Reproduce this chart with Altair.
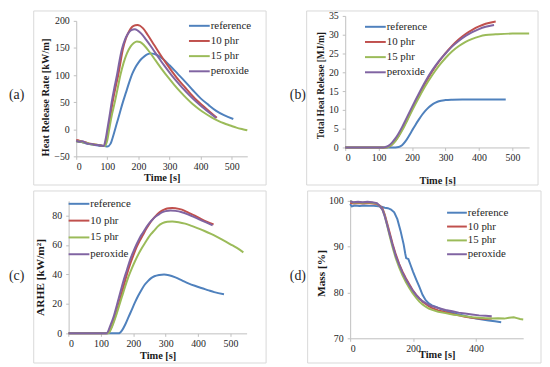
import altair as alt
import pandas as pd

FONT = "Liberation Serif"
SERIES = ["reference", "10 phr", "15 phr", "peroxide"]
COLORS = ["#4F81BD", "#C0504D", "#9BBB59", "#8064A2"]
PANEL_LABELS = ["(a)", "(b)", "(c)", "(d)"]
X_TITLE = "Time [s]"
Y_TITLES = ["Heat Release Rate [kW/m]", "Total Heat Release [MJ/m]", "ARHE [kW/m²]", "Mass [%]"]

# ---------- (a) Heat release rate ----------
HRR_REF_T = [0, 10, 20, 30, 40, 50, 60, 70, 80, 90, 100, 110, 120, 130, 140, 150, 160, 170, 180, 190, 200, 210, 220, 230, 240, 260, 280, 300, 325, 350, 375, 400, 425, 450, 475, 505]
HRR_REF_V = [-22, -23, -24, -26, -27, -28, -29, -30, -31, -31, -32, -27, -10, 10, 30, 50, 68, 86, 102, 114, 123, 130, 135, 138.5, 140, 137, 129, 118, 103, 88, 72, 57, 45, 34, 26, 19]
HRR_10_T = [0, 10, 20, 30, 40, 50, 60, 70, 80, 90, 96, 103, 110, 117, 126, 135, 143, 150, 160, 170, 180, 190, 197, 205, 215, 230, 250, 270, 290, 310, 330, 350, 370, 390, 410, 430, 452]
HRR_10_V = [-20, -21, -23, -24, -26, -27, -28, -29, -30, -31, -20, 0, 24, 50, 76, 100, 126, 148, 168, 181, 189, 192, 192.5, 191, 186, 174, 156, 138, 121, 105, 90, 77, 64, 52, 42, 32, 21]
HRR_15_T = [0, 10, 20, 30, 40, 50, 60, 70, 80, 92, 100, 106, 114, 124, 133, 142, 152, 163, 175, 185, 195, 205, 218, 235, 255, 275, 295, 315, 335, 355, 375, 395, 415, 435, 455, 475, 495, 515, 535, 550]
HRR_15_V = [-23, -22, -24, -25, -26, -28, -28, -29, -30, -31, -20, 0, 25, 50, 75, 100, 122, 140, 153, 159, 162, 161, 155, 143, 127, 111, 96, 82, 69, 57, 46, 37, 29, 22, 16, 11, 7, 3, 0, -2]
HRR_PX_T = [0, 10, 20, 30, 40, 50, 60, 70, 80, 88, 94, 100, 107, 114, 122, 131, 139, 147, 157, 167, 177, 188, 198, 210, 225, 245, 265, 285, 305, 325, 345, 365, 385, 405, 425, 450]
HRR_PX_V = [-21, -23, -22, -25, -27, -27, -29, -29, -30, -31, -20, 0, 24, 50, 75, 100, 126, 148, 166, 177, 183, 184.5, 182, 176, 165, 149, 132, 116, 101, 87, 74, 62, 51, 41, 32, 21]

# ---------- (b) Total heat release ----------
THR_REF_T = [0, 150, 160, 170, 180, 190, 200, 210, 220, 230, 240, 250, 260, 270, 280, 300, 320, 350, 400, 480]
THR_REF_V = [0, 0, 0.1, 0.6, 1.6, 3.0, 4.5, 6.0, 7.4, 8.7, 9.8, 10.7, 11.4, 11.9, 12.3, 12.6, 12.7, 12.75, 12.75, 12.75]
THR_10_T = [0, 120, 130, 140, 150, 160, 170, 180, 190, 200, 220, 240, 260, 280, 300, 320, 340, 360, 380, 400, 420, 450]
THR_10_V = [0, 0, 0.2, 0.8, 1.8, 3.1, 4.8, 6.5, 8.3, 10.2, 13.8, 17.2, 20.2, 22.8, 25.1, 27.1, 28.8, 30.2, 31.3, 32.2, 32.9, 33.5]
THR_15_T = [0, 125, 130, 140, 150, 160, 170, 180, 190, 200, 220, 240, 260, 280, 300, 320, 340, 360, 380, 400, 420, 450, 500, 550]
THR_15_V = [0, 0, 0.2, 0.8, 1.7, 3.0, 4.5, 6.2, 8.0, 9.8, 13.2, 16.4, 19.2, 21.7, 23.8, 25.6, 27.0, 28.1, 28.9, 29.5, 29.9, 30.1, 30.3, 30.3]
THR_PX_T = [0, 115, 120, 130, 140, 150, 160, 170, 180, 190, 200, 220, 240, 260, 280, 300, 320, 340, 360, 380, 400, 420, 445]
THR_PX_V = [0, 0, 0.1, 0.5, 1.3, 2.4, 3.8, 5.4, 7.2, 9.0, 10.8, 14.3, 17.6, 20.5, 23.0, 25.0, 26.9, 28.4, 29.7, 30.7, 31.5, 32.1, 32.6]

# ---------- (c) ARHE ----------
ARHE_REF_T = [0, 155, 165, 175, 185, 195, 205, 215, 225, 235, 245, 255, 265, 280, 295, 310, 330, 350, 370, 390, 410, 430, 450, 480]
ARHE_REF_V = [0, 0, 2, 6, 11, 16, 21, 25.5, 29.5, 33, 35.5, 37.5, 38.8, 39.7, 40, 39.5, 38, 36, 34, 32.3, 30.8, 29.4, 28, 26.5]
ARHE_10_T = [0, 120, 130, 140, 150, 160, 170, 180, 190, 200, 210, 220, 230, 240, 250, 260, 270, 280, 290, 300, 310, 320, 330, 350, 370, 390, 410, 430, 448]
ARHE_10_V = [0, 0, 3, 9, 16, 24, 32, 40, 47, 53, 58.5, 63, 67, 71, 74.5, 77.5, 80, 82, 83.5, 84.5, 85, 85.2, 85, 84, 82, 80, 77.5, 75.5, 74]
ARHE_15_T = [0, 122, 135, 145, 155, 165, 175, 185, 195, 205, 215, 225, 235, 245, 255, 265, 275, 290, 305, 320, 340, 360, 380, 400, 420, 440, 460, 480, 500, 520, 540]
ARHE_15_V = [0, 0, 5, 11, 18, 25, 32, 38.5, 44, 49, 53.5, 57.5, 61, 64.5, 67.5, 70, 72.5, 74.8, 75.8, 76, 75.5, 74.5, 73, 71.3, 69.5, 67.5, 65.3, 63, 60.5, 58, 55]
ARHE_PX_T = [0, 117, 130, 140, 150, 160, 170, 180, 190, 200, 210, 220, 230, 240, 250, 260, 270, 280, 290, 300, 315, 330, 350, 370, 390, 410, 430, 445]
ARHE_PX_V = [0, 0, 6, 12, 20, 28, 36, 43, 50, 55.5, 60.5, 65, 68.5, 72, 75, 77.5, 79.5, 81, 82.3, 83, 83.5, 83.2, 82.3, 80.7, 78.8, 76.8, 74.8, 73.3]

# ---------- (d) Mass ----------
MASS_REF_T = [0, 5, 15, 30, 45, 60, 75, 90, 100, 110, 120, 130, 140, 150, 160, 170, 175, 178, 185, 192, 200, 210, 220, 230, 240, 250, 260, 275, 290, 305, 320, 340, 360, 380, 400, 420, 440, 460, 480]
MASS_REF_V = [99.3, 98.8, 99.0, 98.9, 99.0, 98.9, 98.9, 98.8, 98.7, 98.5, 98.4, 98.1, 97.5, 96.0, 93.5, 90.5, 88.5, 87.5, 87.3, 86.0, 84.5, 82.8, 81.2, 79.5, 78.3, 77.6, 77.2, 76.8, 76.3, 76.0, 75.7, 75.3, 75.0, 74.6, 74.3, 74.1, 73.9, 73.7, 73.5]
MASS_10_T = [0, 10, 25, 40, 55, 70, 85, 95, 103, 110, 118, 125, 135, 145, 156, 166, 177, 188, 198, 210, 220, 230, 240, 250, 261, 280, 303, 325, 345, 365, 387, 410, 430, 450]
MASS_10_V = [99.6, 99.4, 99.5, 99.4, 99.5, 99.4, 99.3, 98.9, 98.3, 97.0, 95.0, 93.2, 90.6, 88.3, 86.2, 84.6, 83.1, 81.8, 80.6, 79.5, 78.7, 78.0, 77.5, 77.0, 76.6, 76.1, 75.7, 75.3, 75.0, 74.7, 74.5, 74.3, 74.2, 74.3]
MASS_15_T = [0, 10, 25, 40, 55, 70, 85, 95, 103, 110, 118, 125, 135, 145, 156, 166, 177, 188, 198, 210, 220, 230, 240, 250, 261, 280, 303, 325, 345, 365, 387, 410, 430, 450, 470, 490, 505, 520, 530, 540, 550]
MASS_15_V = [100.0, 99.6, 99.7, 99.6, 99.7, 99.6, 99.4, 98.8, 98.0, 96.7, 94.5, 92.5, 89.8, 87.5, 85.4, 83.8, 82.3, 81.0, 79.9, 78.8, 78.0, 77.4, 76.9, 76.5, 76.2, 75.8, 75.5, 75.2, 75.0, 74.8, 74.6, 74.5, 74.4, 74.3, 74.4, 74.3, 74.5, 74.6, 74.4, 74.2, 74.1]
MASS_PX_T = [0, 10, 25, 40, 55, 70, 85, 95, 103, 110, 118, 125, 135, 145, 156, 166, 177, 188, 198, 210, 220, 230, 240, 250, 261, 280, 303, 325, 345, 365, 387, 410, 430, 450]
MASS_PX_V = [99.9, 99.7, 99.8, 99.7, 99.8, 99.7, 99.5, 98.8, 98.0, 96.6, 94.6, 92.8, 90.3, 88.0, 86.0, 84.4, 82.9, 81.6, 80.5, 79.4, 78.7, 78.1, 77.7, 77.3, 77.0, 76.6, 76.2, 75.9, 75.6, 75.4, 75.2, 75.0, 74.9, 74.8]


def long_df(pairs):
    rows = []
    for i, (name, (ts, vs)) in enumerate(zip(SERIES, pairs)):
        for t, v in zip(ts, vs):
            rows.append({"series": name, "k": i, "t": t, "v": v})
    return pd.DataFrame(rows)


color = alt.Color("series:N", scale=alt.Scale(domain=SERIES, range=COLORS), legend=None)


def panel(df, label, ytitle, ydomain, yticks, xticks, w, h, interp, g):
    xs = dict(domain=[0, 550], nice=False, zero=False)
    if "xr" in g:
        xs["range"] = g["xr"]
    ys = dict(domain=ydomain, nice=False, zero=False)
    if "yr" in g:
        ys["range"] = g["yr"]
    lines = alt.Chart(df).mark_line(strokeWidth=2, interpolate=interp).encode(
        x=alt.X("t:Q", scale=alt.Scale(**xs),
                axis=alt.Axis(values=xticks, title=X_TITLE, titleY=g["xty"], titleBaseline="middle",
                              titleFontSize=g["xtfs"], labelPadding=2)),
        y=alt.Y("v:Q", scale=alt.Scale(**ys),
                axis=alt.Axis(values=yticks, title=ytitle, titleX=g["ytx"], titleY=g["yty"],
                              titleBaseline="middle", titleFontSize=g["ytfs"], labelPadding=4,
                              offset=g.get("yoff", 0))),
        color=color,
        order="k:O",
    )
    leg_df = pd.DataFrame({"series": SERIES})
    lscale = alt.Scale(type="point", domain=SERIES, range=[g["ly0"], g["ly1"]], padding=0)
    leg_rule = alt.Chart(leg_df).mark_rule(strokeWidth=2).encode(
        x=alt.value(g["lx0"]), x2=alt.value(g["lx1"]),
        y=alt.Y("series:N", scale=lscale, axis=None), color=color)
    leg_text = alt.Chart(leg_df).mark_text(align="left", baseline="middle", font=FONT, fontSize=11,
                                           color="#262626").encode(
        x=alt.value(g["lx1"] + 1), y=alt.Y("series:N", scale=lscale, axis=None), text="series:N")
    lab_data = alt.Data(values=[{"label": label}])
    border = alt.Chart(lab_data).mark_rect(fill="transparent", stroke="#d9d9d9", strokeWidth=1).encode(
        x=alt.value(g["bx0"]), x2=alt.value(g["bx1"]), y=alt.value(g["by0"]), y2=alt.value(g["by1"]))
    lab = alt.Chart(lab_data).mark_text(align="left", baseline="middle", font=FONT, fontSize=14,
                                        color="#262626").encode(
        x=alt.value(g["labx"]), y=alt.value(g["laby"]), text="label:N")
    return alt.layer(border, lab, lines, leg_rule, leg_text).resolve_scale(y="independent").properties(
        width=w, height=h)


XT = [0, 100, 200, 300, 400, 500]

pa = panel(long_df([(HRR_REF_T, HRR_REF_V), (HRR_10_T, HRR_10_V), (HRR_15_T, HRR_15_V), (HRR_PX_T, HRR_PX_V)]),
           PANEL_LABELS[0], Y_TITLES[0], [-50, 200], [-50, 0, 50, 100, 150, 200], XT, 173, 137, "monotone",
           dict(xty=21, xtfs=10.5, ytx=-31, yty=77, ytfs=10.5, ly0=5, ly1=51, lx0=114, lx1=135,
                bx0=-43, bx1=192, by0=-10, by1=166, labx=-68, laby=75))
pb = panel(long_df([(THR_REF_T, THR_REF_V), (THR_10_T, THR_10_V), (THR_15_T, THR_15_V), (THR_PX_T, THR_PX_V)]),
           PANEL_LABELS[1], Y_TITLES[1], [0, 35], [0, 5, 10, 15, 20, 25, 30, 35], XT, 186, 128, "monotone",
           dict(yr=[128, -5], xty=33, xtfs=10.5, ytx=-25, yty=65, ytfs=9.5, ly0=6, ly1=52, lx0=20, lx1=41,
                bx0=-39, bx1=195, by0=-10, by1=166, labx=-56, laby=75))
pc = panel(long_df([(ARHE_REF_T, ARHE_REF_V), (ARHE_10_T, ARHE_10_V), (ARHE_15_T, ARHE_15_V), (ARHE_PX_T, ARHE_PX_V)]),
           PANEL_LABELS[2], Y_TITLES[2], [0, 90], [0, 20, 40, 60, 80], XT, 172, 134, "monotone",
           dict(xr=[-7.7, 172.3], yoff=7.7, xty=22, xtfs=10.5, ytx=-28.3, yty=77, ytfs=11.5, ly0=3, ly1=54,
                lx0=-7.7, lx1=13.3, bx0=-43, bx1=192, by0=-10, by1=164, labx=-68, laby=76))
pd_ = panel(long_df([(MASS_REF_T, MASS_REF_V), (MASS_10_T, MASS_10_V), (MASS_15_T, MASS_15_V), (MASS_PX_T, MASS_PX_V)]),
            PANEL_LABELS[3], Y_TITLES[3], [70, 100], [70, 80, 90, 100], [0, 200, 400], 175, 139, "linear",
            dict(xty=16, xtfs=10.5, ytx=-29, yty=73, ytfs=11.5, ly0=12, ly1=54, lx0=98, lx1=118,
                 bx0=-43, bx1=193, by0=-10, by1=164, labx=-61, laby=76))

chart = alt.concat(pa, pb, pc, pd_, columns=2, spacing={"row": 4, "column": 22}).properties(
    align="none", bounds="full", padding=0
).configure_view(stroke="transparent").configure_axis(
    grid=False, domainColor="#bfbfbf", tickColor="#bfbfbf", tickSize=3,
    labelFont=FONT, labelFontSize=10, labelColor="#262626",
    titleFont=FONT, titleFontWeight="bold", titleColor="#1a1a1a",
)

chart.save("out.html", embed_options={"renderer": "svg", "actions": False})
